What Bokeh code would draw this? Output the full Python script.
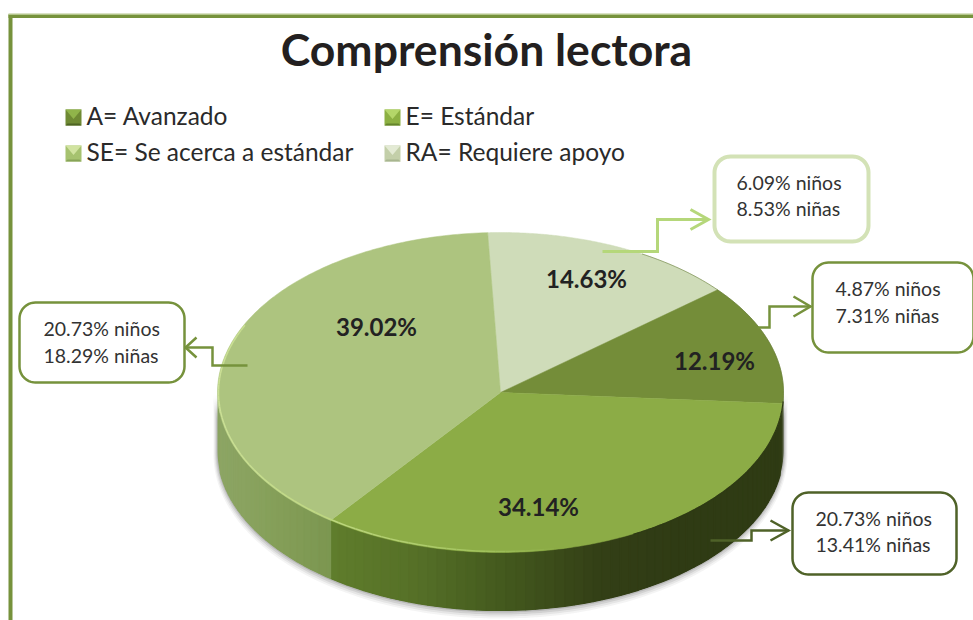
import numpy as np
from bokeh.plotting import figure
from bokeh.models import Range1d
from bokeh.core.properties import value
from bokeh.embed import file_html
from bokeh.resources import INLINE

title_text = "Comprensión lectora"
categories = ["RA", "A", "E", "SE"]
legend_labels = ["A= Avanzado", "E= Estándar", "SE= Se acerca a estándar", "RA= Requiere apoyo"]
shares = [14.63, 12.19, 34.14, 39.02]
ninos = [6.09, 4.87, 20.73, 20.73]
ninas = [8.53, 7.31, 13.41, 18.29]

top_colors = ["#cfdcb9", "#748d39", "#8cac46", "#adc47f"]
box_colors = ["#d3e2b6", "#76923c", "#4f6228", "#76923c"]
arrow_colors = ["#b5d77a", "#76923c", "#4f6228", "#76923c"]

W, H = 973, 620
p = figure(width=W, height=H, x_range=Range1d(0, W), y_range=Range1d(H, 0),
           toolbar_location=None, output_backend="svg", min_border=0,
           background_fill_color="white", border_fill_color="white")
p.axis.visible = False
p.grid.visible = False
p.outline_line_color = None

CX, CY, RX, RY, DEPTH = 500.0, 392.0, 283.0, 160.0, 58.0
START = 92.6


def ell(deg, dy=0.0, grow=0.0):
    t = np.radians(deg)
    return CX + (RX + grow) * np.cos(t), CY - (RY + grow) * np.sin(t) + dy


total = sum(shares)
edges = [START]
for s in shares:
    edges.append(edges[-1] - s / total * 360.0)

# outer frame
p.quad(left=8, right=12, top=14, bottom=H, fill_color="#76923c", line_color=None)
p.quad(left=8, right=W, top=14, bottom=17.5, fill_color="#76923c", line_color=None)
p.quad(left=8, right=W, top=13, bottom=14.5, fill_color="#b4c68c", line_color=None)

# soft shadow below the disc
for g, dy, a in [(4, 4, 0.06), (3, 3, 0.08), (2, 2, 0.12), (1, 1, 0.16)]:
    th = np.linspace(180, 360, 181)
    xa, ya = ell(th, 0, g)
    xb, yb = ell(th[::-1], DEPTH + dy, g)
    p.patch(np.r_[xa, xb], np.r_[ya, yb], fill_color="#404040", fill_alpha=a, line_color=None)


def lerp(stops, x):
    xs = [s[0] for s in stops]
    rgb = [np.interp(x, xs, [int(s[1][i:i + 2], 16) for s in stops]) for i in (1, 3, 5)]
    return "#%02x%02x%02x" % tuple(int(round(v)) for v in rgb)


se_stops = [(218, "#8da565"), (270, "#86a05a"), (331, "#7b9650")]
dark_stops = [(331, "#5f7d2c"), (420, "#556f27"), (500, "#445a1e"), (600, "#333f16"),
              (680, "#2f3b14"), (783, "#2f3b14")]

# side wall: solid base for each slice, then strips that carry the shading
xs, ys, cols = [], [], []
for i, (a, b) in enumerate(zip(edges[:-1], edges[1:])):
    l, h = max(b, -180), min(a, 0)
    if h <= l:
        continue
    stops = se_stops if categories[i] == "SE" else dark_stops
    ang = np.linspace(l, h, 90)
    bx0, by0 = ell(ang)
    bx1, by1 = ell(ang[::-1], DEPTH)
    mid, _ = ell((l + h) / 2)
    p.patch(np.r_[bx0, bx1], np.r_[by0, by1], fill_color=lerp(stops, mid), line_color=None)
    ang = np.r_[np.arange(l, h, 2.0), h]
    for u, v in zip(ang[:-1], ang[1:]):
        x0, y0 = ell(u)
        x1, y1 = ell(v)
        if abs(x1 - x0) < 1.5 and lerp(stops, x0) == lerp(stops, x1):
            continue
        xs.append([x0, x1, x1, x0])
        ys.append([y0 - 1, y1 - 1, y1 + DEPTH, y0 + DEPTH])
        cols.append(lerp(stops, (x0 + x1) / 2))
p.patches(xs, ys, fill_color=cols, line_color=cols, line_width=1.2)

# top surface
for i, (a, b) in enumerate(zip(edges[:-1], edges[1:])):
    th = np.linspace(a, b, 160)
    x, y = ell(th)
    p.patch(np.r_[CX, x], np.r_[CY, y], fill_color=top_colors[i], line_color=top_colors[i], line_width=0.5)

# rim highlight at the front-left, fading to the right; thin dark rim at the back right
ang = np.arange(-205.0, -75.0, 2.0)
sx, sy, sc = [], [], []
for u, v in zip(ang[:-1], ang[1:]):
    x0, y0 = ell(u, 0, -1)
    x1, y1 = ell(v, 0, -1)
    sx.append([x0, x1])
    sy.append([y0, y1])
    sc.append(lerp([(218, "#cbe096"), (331, "#bed780"), (480, "#a3c45f"), (560, "#8cac46")], (x0 + x1) / 2))
p.multi_line(sx, sy, line_color=sc, line_width=1.5)
th = np.linspace(60, -3, 70)
x, y = ell(th)
p.line(x, y, line_color="#5f7430", line_alpha=0.55, line_width=1)
th = np.linspace(-3, -62, 70)
x, y = ell(th, 0.5)
p.line(x, y, line_color="#2e3a14", line_width=1.2)

# legend swatches (bevelled squares)
swatch_base = ["#6f8a34", "#8cb042", "#a6c26f", "#c3cfa9"]
swatch_top = ["#90b44a", "#b4d669", "#d1e3a0", "#e3ead4"]
swatch_bot = ["#4e6424", "#64842c", "#87a458", "#a8b690"]
swatch_xy = [(65, 109), (384, 109), (65, 145), (384, 145)]
S, B = 16, 4
for (sxx, syy), base, t, bt in zip(swatch_xy, swatch_base, swatch_top, swatch_bot):
    p.quad(left=sxx, right=sxx + S, top=syy, bottom=syy + S, fill_color=base, line_color=None)
    p.patch([sxx, sxx + S, sxx + S / 2], [syy, syy, syy + S * 0.6], fill_color=t, line_color=None)
    p.patch([sxx, sxx + S, sxx + S - B / 2, sxx + B / 2], [syy + S, syy + S, syy + S - B / 2, syy + S - B / 2],
            fill_color=bt, line_color=None)


def rbox(x0, y0, x1, y1, r=16):
    px, py = [], []
    for cx, cy, a0 in [(x1 - r, y0 + r, -90), (x1 - r, y1 - r, 0), (x0 + r, y1 - r, 90), (x0 + r, y0 + r, 180)]:
        t = np.radians(np.linspace(a0, a0 + 90, 12))
        px += list(cx + r * np.cos(t))
        py += list(cy + r * np.sin(t))
    return px, py


# callouts
boxes = [(714, 156, 868, 241, 4), (812, 262, 973, 352, 2.5), (792, 492, 956, 574, 2.5), (19, 302, 184, 382, 2.5)]
paths = [
    ([602, 657, 657, 708], [251, 251, 219, 219], [690, 708, 690], [209, 219, 229], 3),
    ([757, 769, 769, 810], [327, 327, 306, 306], [793, 810, 793], [296, 306, 316], 2.5),
    ([710, 751, 751, 788], [540, 540, 530, 530], [770, 788, 770], [520, 530, 540], 2.5),
    ([247, 212, 212, 185], [365, 365, 347, 347], [196, 185, 196], [337, 347, 357], 2.5),
]
for (lx, ly, hx, hy, w), c in zip(paths, arrow_colors):
    p.line(lx, ly, line_color=c, line_width=w, line_join="miter")
    p.line(hx, hy, line_color=c, line_width=w, line_join="miter")
for (x0, y0, x1, y1, w), c in zip(boxes, box_colors):
    bx, by = rbox(x0, y0, x1, y1)
    p.patch(bx, by, fill_color="white", line_color=c, line_width=w)

FONT = value("Lato")
tx = [736, 835, 815, 43]
ty = [[182, 208], [288, 315], [518, 544], [328, 355]]
for i in range(4):
    for line, label in zip(ty[i], (f"{ninos[i]:.2f}% niños", f"{ninas[i]:.2f}% niñas")):
        p.text([tx[i]], [line], text=[label], text_font=FONT, text_font_size="19.5px",
               text_color="#333333", text_baseline="alphabetic", text_align="left")

# percent labels
lab_x = [586, 714, 538, 376]
lab_y = [278, 360, 506, 326]
p.text(lab_x, lab_y, text=[f"{s:.2f}%" for s in shares], text_font=FONT, text_font_style="bold",
       text_font_size="24px", text_color="#222222", text_align="center", text_baseline="alphabetic")

# legend
p.text([86, 405, 86, 405], [115, 115, 151, 151], text=legend_labels, text_font=FONT, text_font_size="24.5px",
       text_color="#2a2a2a", text_align="left", text_baseline="alphabetic")

# title
p.text([486], [48], text=[title_text], text_font=FONT, text_font_style="bold", text_font_size="44.5px",
       text_color="#231f20", text_align="center", text_baseline="alphabetic")

open("out.html", "w").write(file_html(p, INLINE))
